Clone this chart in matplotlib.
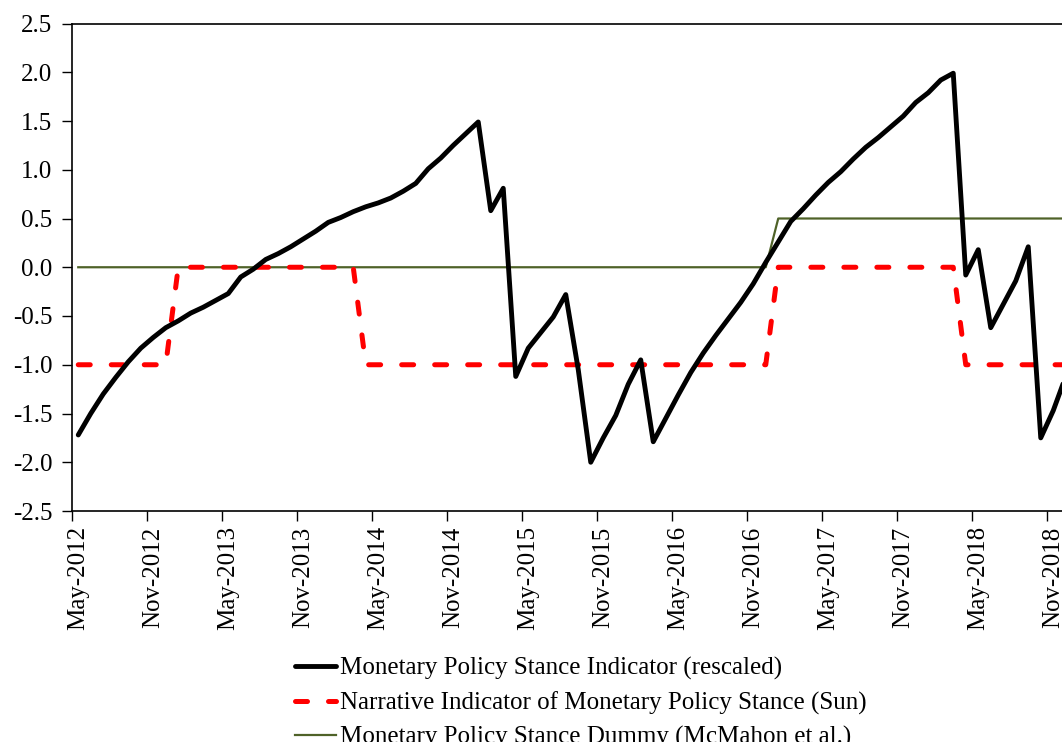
import matplotlib

matplotlib.use("Agg")
import matplotlib.pyplot as plt
import numpy as np
import pandas as pd

# ---------- data (monthly, May-2012 onwards) ----------
months = pd.date_range("2012-05-01", periods=80, freq="MS").strftime("%b-%Y").tolist()

stance_indicator = [
    -1.72, -1.50, -1.30, -1.13, -0.97, -0.83, -0.72, -0.62, -0.55, -0.47,
    -0.41, -0.34, -0.27, -0.10, -0.02, 0.08, 0.14, 0.21, 0.29, 0.37,
    0.46, 0.51, 0.57, 0.62, 0.66, 0.71, 0.78, 0.86, 1.01, 1.12,
    1.25, 1.37, 1.49, 0.58, 0.81, -1.12, -0.83, -0.67, -0.51, -0.28,
    -1.05, -2.00, -1.75, -1.52, -1.20, -0.95, -1.79, -1.55, -1.31, -1.08,
    -0.88, -0.70, -0.53, -0.36, -0.17, 0.05, 0.26, 0.47, 0.60, 0.74,
    0.87, 0.98, 1.11, 1.23, 1.33, 1.44, 1.55, 1.69, 1.79, 1.92,
    1.99, -0.08, 0.18, -0.62, -0.38, -0.14, 0.21, -1.75, -1.47, -1.12,
]

narrative_sun = (
    [-1] * 8 + [0] * 15 + [-1] * 33 + [0] * 15 + [-1] * 9
)

dummy_mcmahon = [0] * 56 + [0.5] * 24

labels = [
    "Monetary Policy Stance Indicator (rescaled)",
    "Narrative Indicator of Monetary Policy Stance (Sun)",
    "Monetary Policy Stance Dummy (McMahon et al.)",
]

yticks = np.arange(-2.5, 2.51, 0.5)

# ---------- plot ----------
plt.rcParams["font.family"] = ["Liberation Serif", "DejaVu Serif"]
fs = 18

W, H = 1062, 742
fig = plt.figure(figsize=(W / 100, H / 100), dpi=100)
n = len(months)
px_per_month = 12.5
left, top, bottom = 72, 23.5, 511
ax = fig.add_axes([left / W, 1 - bottom / H,
                   n * px_per_month / W, (bottom - top) / H])

x = np.arange(n)
ax.plot(x, stance_indicator, color="black", lw=3.5, solid_joinstyle="round",
        solid_capstyle="round", label=labels[0], zorder=3)
ax.plot(x, narrative_sun, color="#FF0000", lw=3.6, dashes=(2.4, 4.2),
        dash_capstyle="round", dash_joinstyle="round", label=labels[1], zorder=2)
ax.plot(x, dummy_mcmahon, color="#4F6228", lw=1.6, label=labels[2], zorder=1)

ax.set_xlim(-0.5, n - 0.5)
ax.set_ylim(-2.5, 2.5)

# ticks at category boundaries, labels at category centres
ax.set_xticks(np.arange(0, n, 6) - 0.5)
ax.set_xticklabels([])
ax.set_xticks(np.arange(0, n, 6), minor=True)
ax.set_xticklabels(months[::6], minor=True, rotation=90, fontsize=fs)
ax.tick_params(axis="x", which="major", direction="out", length=7, width=1)
ax.tick_params(axis="x", which="minor", length=0, pad=11)

ax.set_yticks(yticks)
ax.set_yticklabels([f"{v:.1f}" for v in yticks], fontsize=fs)
ax.tick_params(axis="y", direction="out", length=7, width=1, pad=7)

for s in ax.spines.values():
    s.set_linewidth(1.2)
    s.set_color("black")

handles, _ = ax.get_legend_handles_labels()
fig.legend(handles, labels, loc="upper left",
           bbox_to_anchor=(295 / W, 1 - 657 / H), frameon=False,
           fontsize=fs, handlelength=1.65, handletextpad=0.15,
           labelspacing=0.45, borderpad=0, borderaxespad=0)

fig.savefig("out.png", dpi=100, facecolor="white")
